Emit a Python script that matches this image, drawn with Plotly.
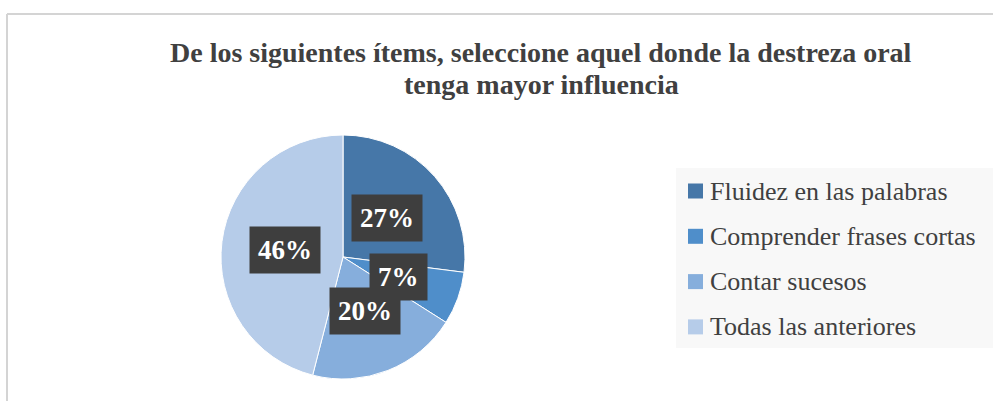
import math
import plotly.graph_objects as go

# ---- data ----
categories = ["Fluidez en las palabras", "Comprender frases cortas", "Contar sucesos", "Todas las anteriores"]
values = [27, 7, 20, 46]
colors = ["#4677A8", "#4F8ECA", "#86AEDC", "#B6CCE9"]
title_lines = ["De los siguientes ítems, seleccione aquel donde la destreza oral",
               "tenga mayor influencia"]

W, H = 993, 401
SERIF = "Liberation Serif"

# pie geometry in pixels
cx, cy, R = 343, 257, 122

def px(x):
    return x / W

def py(y):
    return 1 - y / H

fig = go.Figure()
fig.add_trace(go.Pie(
    labels=categories, values=values, sort=False, direction="clockwise", rotation=0,
    marker=dict(colors=colors, line=dict(color="#ffffff", width=1)),
    textinfo="none", hoverinfo="label+percent", showlegend=False,
    domain=dict(x=[px(cx - R), px(cx + R)], y=[py(cy + R), py(cy - R)]),
))

annotations = []
shapes = []

# percentage labels placed along slice mid-angles
total = sum(values)
cum = 0
for v in values:
    mid = (cum + v / 2) / total * 2 * math.pi
    cum += v
    r = 0.48 * R
    x = cx + r * math.sin(mid)
    y = cy - r * math.cos(mid)
    annotations.append(dict(
        x=px(x), y=py(y), xref="paper", yref="paper", showarrow=False,
        text=f"<b>{round(v / total * 100)}%</b>",
        font=dict(family=SERIF, size=27, color="#ffffff"),
        bgcolor="#3e3e3e", borderpad=8, xanchor="center", yanchor="middle",
    ))

# title (two centred lines)
for i, (line, yc) in enumerate(zip(title_lines, [53, 84])):
    annotations.append(dict(
        x=px(541), y=py(yc), xref="paper", yref="paper", showarrow=False,
        text=f"<b>{line}</b>", xanchor="center", yanchor="middle",
        font=dict(family=SERIF, size=28, color="#404040"),
    ))

# legend background
shapes.append(dict(type="rect", xref="paper", yref="paper",
                   x0=px(676), x1=px(993), y0=py(348), y1=py(168),
                   fillcolor="#f8f8f8", line=dict(width=0), layer="below"))

for i, (lab, col) in enumerate(zip(categories, colors)):
    yc = 191 + 45.3 * i
    shapes.append(dict(type="rect", xref="paper", yref="paper",
                       x0=px(688), x1=px(703), y0=py(yc + 7.5), y1=py(yc - 7.5),
                       fillcolor=col, line=dict(width=0)))
    annotations.append(dict(
        x=px(708), y=py(yc), xref="paper", yref="paper", showarrow=False,
        text=lab, xanchor="left", yanchor="middle",
        font=dict(family=SERIF, size=26, color="#404040"),
    ))

# chart frame lines
shapes.append(dict(type="line", xref="paper", yref="paper",
                   x0=px(7), x1=1, y0=py(14), y1=py(14), line=dict(color="#d4d4d4", width=2)))
shapes.append(dict(type="line", xref="paper", yref="paper",
                   x0=px(7), x1=px(7), y0=py(14), y1=0, line=dict(color="#d4d4d4", width=2)))

fig.update_layout(
    width=W, height=H, margin=dict(l=0, r=0, t=0, b=0),
    paper_bgcolor="#ffffff", plot_bgcolor="#ffffff",
    annotations=annotations, shapes=shapes, showlegend=False,
)

fig.write_html("out.html", config={"displayModeBar": False},
               post_script="document.body.style.margin='0';")
